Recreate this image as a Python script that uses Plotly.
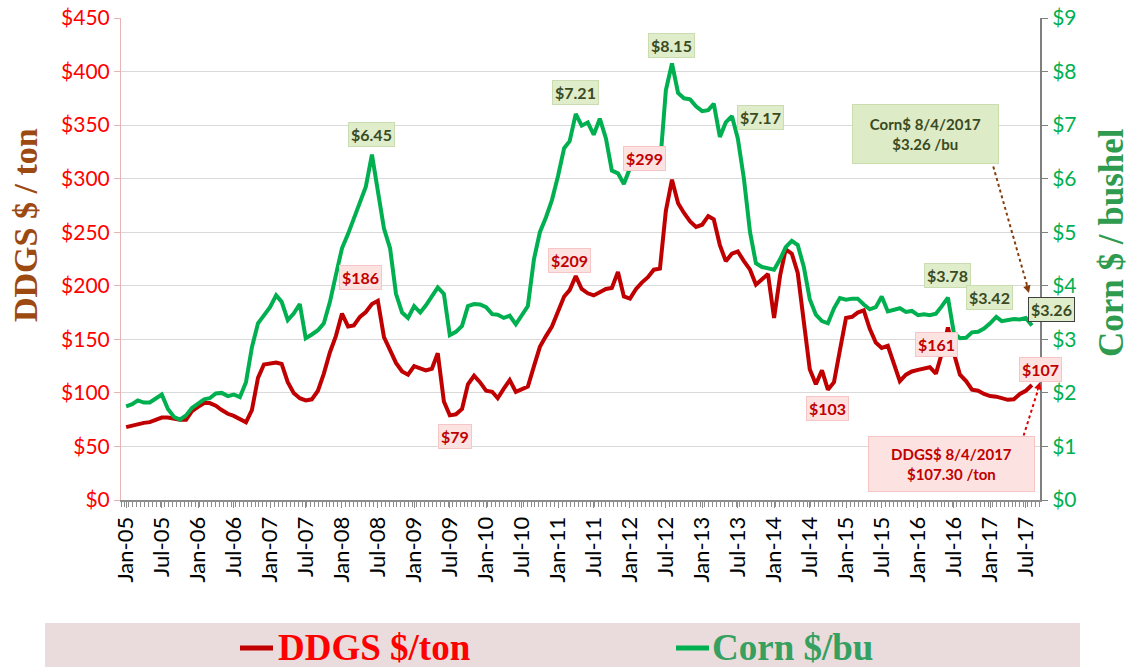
import plotly.graph_objects as go
import pandas as pd

# ---------------- data (monthly, Jan-2005 .. Aug-2017) ----------------
months = pd.date_range("2005-01-01", periods=152, freq="MS").strftime("%Y-%m-%d").tolist()

ddgs = [68, 69.5, 70.7, 72, 72.7, 74.5, 77, 77, 76, 75, 75, 83,
        87, 90.5, 90.5, 88, 84, 80.5, 78.5, 75, 72.5, 84, 114, 126.5,
        127.5, 128.3, 127, 110, 100, 95, 93, 94, 102, 118, 138, 153,
        174, 162, 163, 171, 175.5, 183, 186, 152, 140, 128, 120, 117,
        125, 123, 121, 122.5, 137, 92, 79, 80, 85, 108, 116, 110,
        102, 101, 95, 104, 112, 101, 103, 106, 125, 143, 153, 162,
        176, 190, 196, 209, 197, 193, 191, 194, 197, 198, 213, 190,
        188, 197, 203, 208, 215, 216, 270, 299, 277, 268, 260, 255,
        257, 265, 262, 238, 223, 230, 232, 223, 215, 201, 206, 211,
        170, 210, 234, 230, 212, 165, 122, 108, 121, 103, 110, 140,
        170, 171, 175, 177, 160, 147, 142, 144, 127, 111, 117, 120,
        121.5, 123, 124, 118, 137, 161, 137, 117, 111, 103, 102, 99,
        97, 96.5, 95, 93.5, 94, 99, 102, 107.3]

corn = [1.75, 1.79, 1.86, 1.82, 1.82, 1.89, 1.97, 1.70, 1.55, 1.50, 1.58, 1.72,
        1.80, 1.88, 1.90, 1.99, 2.00, 1.94, 1.97, 1.92, 2.20, 2.85, 3.30, 3.46,
        3.60, 3.82, 3.70, 3.36, 3.48, 3.66, 3.02, 3.09, 3.17, 3.30, 3.70, 4.20,
        4.70, 4.97, 5.25, 5.58, 5.85, 6.45, 5.80, 5.07, 4.70, 3.85, 3.50, 3.40,
        3.62, 3.50, 3.63, 3.80, 3.97, 3.85, 3.08, 3.14, 3.25, 3.62, 3.66, 3.65,
        3.60, 3.47, 3.46, 3.40, 3.44, 3.28, 3.45, 3.62, 4.50, 5.00, 5.28, 5.60,
        6.05, 6.57, 6.70, 7.21, 6.99, 7.05, 6.82, 7.12, 6.75, 6.15, 6.10, 5.90,
        6.20, 6.32, 6.38, 6.27, 6.27, 6.24, 7.65, 8.15, 7.60, 7.50, 7.48, 7.35,
        7.26, 7.28, 7.40, 6.78, 7.05, 7.17, 6.75, 6.00, 5.00, 4.42, 4.35, 4.33,
        4.30, 4.50, 4.72, 4.84, 4.76, 4.35, 3.75, 3.46, 3.34, 3.30, 3.58, 3.77,
        3.74, 3.76, 3.76, 3.65, 3.56, 3.60, 3.80, 3.52, 3.55, 3.58, 3.51, 3.53,
        3.45, 3.47, 3.45, 3.48, 3.62, 3.78, 3.12, 3.02, 3.03, 3.13, 3.14, 3.20,
        3.30, 3.42, 3.34, 3.36, 3.38, 3.37, 3.40, 3.26]

tick_dates = ["2005-01-01", "2005-07-01", "2006-01-01", "2006-07-01", "2007-01-01",
              "2007-07-01", "2008-01-01", "2008-07-01", "2009-01-01", "2009-07-01",
              "2010-01-01", "2010-07-01", "2011-01-01", "2011-07-01", "2012-01-01",
              "2012-07-01", "2013-01-01", "2013-07-01", "2014-01-01", "2014-07-01",
              "2015-01-01", "2015-07-01", "2016-01-01", "2016-07-01", "2017-01-01",
              "2017-07-01"]
tick_text = ["Jan-05", "Jul-05", "Jan-06", "Jul-06", "Jan-07", "Jul-07", "Jan-08",
             "Jul-08", "Jan-09", "Jul-09", "Jan-10", "Jul-10", "Jan-11", "Jul-11",
             "Jan-12", "Jul-12", "Jan-13", "Jul-13", "Jan-14", "Jul-14", "Jan-15",
             "Jul-15", "Jan-16", "Jul-16", "Jan-17", "Jul-17"]

ddgs_ticks = [0, 50, 100, 150, 200, 250, 300, 350, 400, 450]
corn_ticks = [0, 1, 2, 3, 4, 5, 6, 7, 8, 9]

# labelled points: (index, xshift, yshift)
ddgs_labels = [(42, -17, 23), (54, 5, -21), (75, -6, 16), (91, -27, 21),
               (117, 0, -19), (137, -11, -17), (151, 9, 16)]
corn_labels = [(41, 0, 20), (75, 0, 21), (91, 0, 18), (101, 29, -1),
               (137, 0, 22), (145, -7, 19)]

# ---------------- figure ----------------
W, H = 1130, 667
L, R, T, B = 121, 1040, 18, 500   # plot area in window pixels
DDGS_C = "#C00000"
CORN_C = "#00B050"


def px(x):
    return (x - L) / (R - L)


def py(y):
    return (B - y) / (B - T)


fig = go.Figure()
fig.add_trace(go.Scatter(x=months, y=ddgs, mode="lines", name="DDGS $/ton",
                         line=dict(color=DDGS_C, width=4), yaxis="y"))
fig.add_trace(go.Scatter(x=months, y=corn, mode="lines", name="Corn $/bu",
                         line=dict(color=CORN_C, width=4), yaxis="y2"))

annotations = []
lab_font = "Lato"
for i, xs, ys in ddgs_labels:
    annotations.append(dict(x=months[i], y=ddgs[i], xref="x", yref="y",
                            xanchor="center", yanchor="middle",
                            text="<b>$%d</b>" % round(ddgs[i]), showarrow=False,
                            xshift=xs, yshift=ys, bgcolor="#FDE2E2",
                            bordercolor="#F6C6C6", borderwidth=1, borderpad=2,
                            font=dict(family=lab_font, size=16, color=DDGS_C)))
for i, xs, ys in corn_labels:
    annotations.append(dict(x=months[i], y=corn[i], xref="x", yref="y2",
                            xanchor="center", yanchor="middle",
                            text="<b>$%.2f</b>" % corn[i], showarrow=False,
                            xshift=xs, yshift=ys, bgcolor="#E0EDCB",
                            bordercolor="#CADDB0", borderwidth=1, borderpad=2,
                            font=dict(family=lab_font, size=16, color="#3A4A22")))
# last corn value, boxed with dark border
annotations.append(dict(x=months[-1], y=corn[-1], xref="x", yref="y2",
                        xanchor="center", yanchor="middle",
                        text="<b>$%.2f</b>" % corn[-1], showarrow=False,
                        xshift=20, yshift=16, bgcolor="#E0EDCB",
                        bordercolor="#404040", borderwidth=1, borderpad=2,
                        font=dict(family=lab_font, size=16, color="#3A4A22")))

# callout boxes
annotations.append(dict(x=px(925), y=py(134), xref="paper", yref="paper",
                        xanchor="center", yanchor="middle",
                        text="<b>Corn$ 8/4/2017<br>$%.2f /bu</b>" % corn[-1],
                        showarrow=False, width=143, height=56, bgcolor="#DDEBC6",
                        bordercolor="#C9DDAE", borderwidth=1,
                        font=dict(family=lab_font, size=15, color="#3A4A22")))
annotations.append(dict(x=px(951), y=py(464), xref="paper", yref="paper",
                        xanchor="center", yanchor="middle",
                        text="<b>DDGS$ 8/4/2017<br>$%.2f /ton</b>" % ddgs[-1],
                        showarrow=False, width=163, height=52, bgcolor="#FDE2E2",
                        bordercolor="#F6C6C6", borderwidth=1,
                        font=dict(family=lab_font, size=15, color=DDGS_C)))
# arrow heads for dotted callout lines
annotations.append(dict(x=px(1029), y=py(293), xref="paper", yref="paper", text="",
                        showarrow=True, arrowhead=2, arrowsize=1, arrowwidth=1.5,
                        arrowcolor="#843C0C", ax=-3, ay=-10))
annotations.append(dict(x=px(1040), y=py(382), xref="paper", yref="paper", text="",
                        showarrow=True, arrowhead=2, arrowsize=1, arrowwidth=1.5,
                        arrowcolor="#E00000", ax=-3, ay=10))

# axis titles
annotations.append(dict(x=px(25), y=py(225), xref="paper", yref="paper",
                        xanchor="center", yanchor="middle",
                        text="<b>DDGS $ / ton</b>", textangle=-90, showarrow=False,
                        font=dict(family="Liberation Serif", size=34, color="#9C4A12")))
annotations.append(dict(x=px(1111), y=py(243), xref="paper", yref="paper",
                        xanchor="center", yanchor="middle",
                        text="<b>Corn $ / bushel</b>", textangle=-90, showarrow=False,
                        font=dict(family="Liberation Serif", size=35, color="#2E9B4E")))

# legend texts
annotations.append(dict(x=px(276), y=py(647), xref="paper", yref="paper",
                        xanchor="left", yanchor="middle",
                        text="<b>DDGS $/ton</b>", showarrow=False,
                        font=dict(family="Liberation Serif", size=37, color="#FF0000")))
annotations.append(dict(x=px(710), y=py(647), xref="paper", yref="paper",
                        xanchor="left", yanchor="middle",
                        text="<b>Corn $/bu</b>", showarrow=False,
                        font=dict(family="Liberation Serif", size=37, color="#35A060")))

shapes = [
    # legend band
    dict(type="rect", xref="paper", yref="paper", x0=px(45), x1=px(1080),
         y0=py(667), y1=py(623), fillcolor="#EADCDC", line=dict(width=0), layer="below"),
    dict(type="line", xref="paper", yref="paper", x0=px(240), x1=px(273),
         y0=py(648), y1=py(648), line=dict(color=DDGS_C, width=5)),
    dict(type="line", xref="paper", yref="paper", x0=px(676), x1=px(709),
         y0=py(648), y1=py(648), line=dict(color=CORN_C, width=5)),
    # dotted callout lines
    dict(type="line", xref="paper", yref="paper", x0=px(990), y0=py(155),
         x1=px(1027), y1=py(285), line=dict(color="#843C0C", width=2, dash="dot")),
    dict(type="line", xref="paper", yref="paper", x0=px(1020), y0=py(447),
         x1=px(1038), y1=py(390), line=dict(color="#E00000", width=2, dash="dot")),
]

fig.update_layout(
    template="none",
    width=W, height=H,
    margin=dict(l=L, r=W - R, t=T, b=H - B, pad=0, autoexpand=False),
    paper_bgcolor="white", plot_bgcolor="white",
    showlegend=False,
    annotations=annotations, shapes=shapes,
    xaxis=dict(type="date", range=["2004-12-06", "2017-09-11"], automargin=False,
               tickvals=tick_dates, ticktext=tick_text, tickangle=-90,
               tickfont=dict(family="Lato", size=22, color="#000000"),
               ticklabeloverflow="allow",
               showgrid=False, showline=True, linecolor="#8C8C8C", linewidth=2,
               ticks="outside", ticklen=6, tickcolor="#8C8C8C",
               minor=dict(ticks="outside", ticklen=5, tickcolor="#8C8C8C",
                          dtick=20 * 86400000, tick0="2004-12-06", showgrid=False),
               zeroline=False),
    yaxis=dict(range=[0, 450], tickvals=ddgs_ticks, automargin=False,
               ticktext=["$%d" % v for v in ddgs_ticks],
               tickfont=dict(family="Lato", size=21, color="#FF0000"),
               ticklabeloverflow="allow",
               showgrid=True, gridcolor="#D9D9D9", gridwidth=1,
               showline=True, linecolor="#E8B4B4", linewidth=1,
               ticks="outside", ticklen=6, tickcolor="#E8B4B4", zeroline=False),
    yaxis2=dict(range=[0, 9], tickvals=corn_ticks, automargin=False,
                ticktext=["$%d" % v for v in corn_ticks],
                tickfont=dict(family="Lato", size=21, color=CORN_C),
                ticklabeloverflow="allow",
                overlaying="y", side="right", showgrid=False,
                showline=True, linecolor="#7F7F7F", linewidth=2,
                ticks="outside", ticklen=6, tickcolor="#7F7F7F", zeroline=False),
)

# remove the default page margin so the figure sits at the window's top-left corner
fig.write_html("out.html", config={"displayModeBar": False},
               post_script="document.body.style.margin='0';document.body.style.overflow='hidden';")
